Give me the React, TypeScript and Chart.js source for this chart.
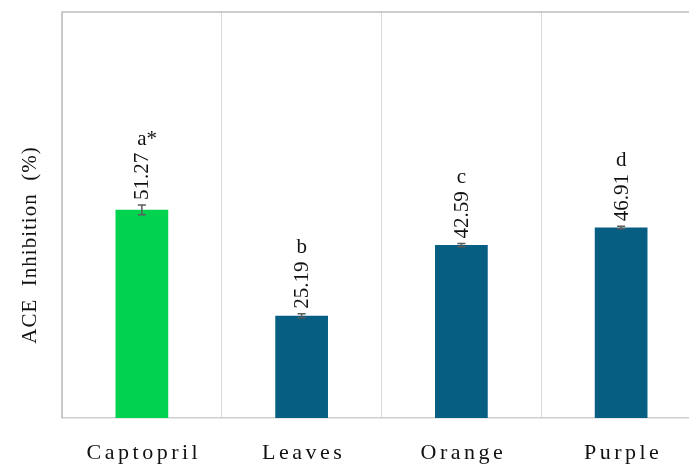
import { useEffect, useRef } from 'react';
import { Chart, registerables } from 'chart.js';

Chart.register(...registerables);

// Sample groups and measured ACE inhibition (%)
const categories = ['Captopril', 'Leaves', 'Orange', 'Purple'];
const inhibition = [51.27, 25.19, 42.59, 46.91];
const stdDev = [1.2, 0.5, 0.4, 0.3];
const groupLetters = ['a*', 'b', 'c', 'd'];
const barColors = ['#00d34f', '#065e82', '#065e82', '#065e82'];
const axisTitle = 'ACE  Inhibition  (%)';
const yMin = 0;
const yMax = 100;

const SERIF = '"Liberation Serif", "Times New Roman", serif';

// Error bars, rotated value labels, significance letters, frame and axis texts
const annotate = {
  id: 'annotate',
  afterDatasetsDraw(chart: any) {
    const { ctx } = chart;
    const y = chart.scales.y;
    const meta = chart.getDatasetMeta(0);
    ctx.save();
    meta.data.forEach((bar: any, i: number) => {
      const cx = bar.x;
      const top = y.getPixelForValue(inhibition[i] + stdDev[i]);
      const bot = y.getPixelForValue(inhibition[i] - stdDev[i]);
      ctx.strokeStyle = '#5a5a5a';
      ctx.lineWidth = 1.5;
      ctx.beginPath();
      ctx.moveTo(cx, top);
      ctx.lineTo(cx, bot);
      ctx.moveTo(cx - 4, top);
      ctx.lineTo(cx + 4, top);
      ctx.moveTo(cx - 4, bot);
      ctx.lineTo(cx + 4, bot);
      ctx.stroke();

      const txt = inhibition[i].toFixed(2);
      ctx.font = `21px ${SERIF}`;
      ctx.fillStyle = '#111';
      const w = ctx.measureText(txt).width;
      const start = top - 5;
      ctx.save();
      ctx.translate(cx, start);
      ctx.rotate(-Math.PI / 2);
      ctx.textAlign = 'left';
      ctx.textBaseline = 'middle';
      ctx.fillText(txt, 0, 1);
      ctx.restore();

      const letter = groupLetters[i];
      const lw = ctx.measureText(letter[0]).width;
      ctx.textAlign = 'left';
      ctx.textBaseline = 'alphabetic';
      ctx.fillText(letter, cx - lw / 2, start - w - 8);
    });
    ctx.restore();
  },
  afterDraw(chart: any) {
    const { ctx, chartArea } = chart;
    const x = chart.scales.x;
    ctx.save();
    // frame: top and left edges
    ctx.strokeStyle = '#bdbdbd';
    ctx.lineWidth = 1.5;
    ctx.beginPath();
    ctx.moveTo(chartArea.left, chartArea.bottom);
    ctx.lineTo(chartArea.left, chartArea.top);
    ctx.lineTo(chartArea.right, chartArea.top);
    ctx.stroke();

    // category labels
    ctx.fillStyle = '#111';
    ctx.font = `22px ${SERIF}`;
    (ctx as any).letterSpacing = '3.5px';
    ctx.textAlign = 'center';
    ctx.textBaseline = 'alphabetic';
    categories.forEach((c, i) => {
      ctx.fillText(c, x.getPixelForValue(i) + 2, chartArea.bottom + 41);
    });

    // y-axis title
    ctx.font = `21px ${SERIF}`;
    (ctx as any).letterSpacing = '1px';
    ctx.translate(30, 245);
    ctx.rotate(-Math.PI / 2);
    ctx.textAlign = 'center';
    ctx.textBaseline = 'middle';
    ctx.fillText(axisTitle, 0, 0);
    ctx.restore();
  },
};

export default function App() {
  const ref = useRef<HTMLCanvasElement>(null);

  useEffect(() => {
    document.body.style.margin = '0';
    document.body.style.overflow = 'hidden';
    document.documentElement.style.overflow = 'hidden';
    const chart = new Chart(ref.current as HTMLCanvasElement, {
      type: 'bar',
      data: {
        labels: categories,
        datasets: [
          {
            data: inhibition,
            backgroundColor: barColors,
            borderWidth: 0,
            categoryPercentage: 0.33,
            barPercentage: 1,
          },
        ],
      },
      options: {
        animation: false,
        responsive: false,
        layout: { padding: { left: 62, top: 12, right: 19, bottom: 0 } },
        plugins: {
          legend: { display: false },
          tooltip: { enabled: false },
        },
        scales: {
          x: {
            offset: true,
            grid: { offset: true, color: '#dadada', lineWidth: 1, drawTicks: false },
            border: { display: true, color: '#cfcfcf', width: 1.5 },
            ticks: { display: false },
            afterFit(s: any) {
              s.height = 46;
            },
          },
          y: { display: false, min: yMin, max: yMax },
        },
      },
      plugins: [annotate],
    });
    return () => chart.destroy();
  }, []);

  return (
    <div style={{ position: 'fixed', left: 0, top: 0, width: 720, height: 464, background: '#fff' }}>
      <canvas ref={ref} width={720} height={464} />
    </div>
  );
}
